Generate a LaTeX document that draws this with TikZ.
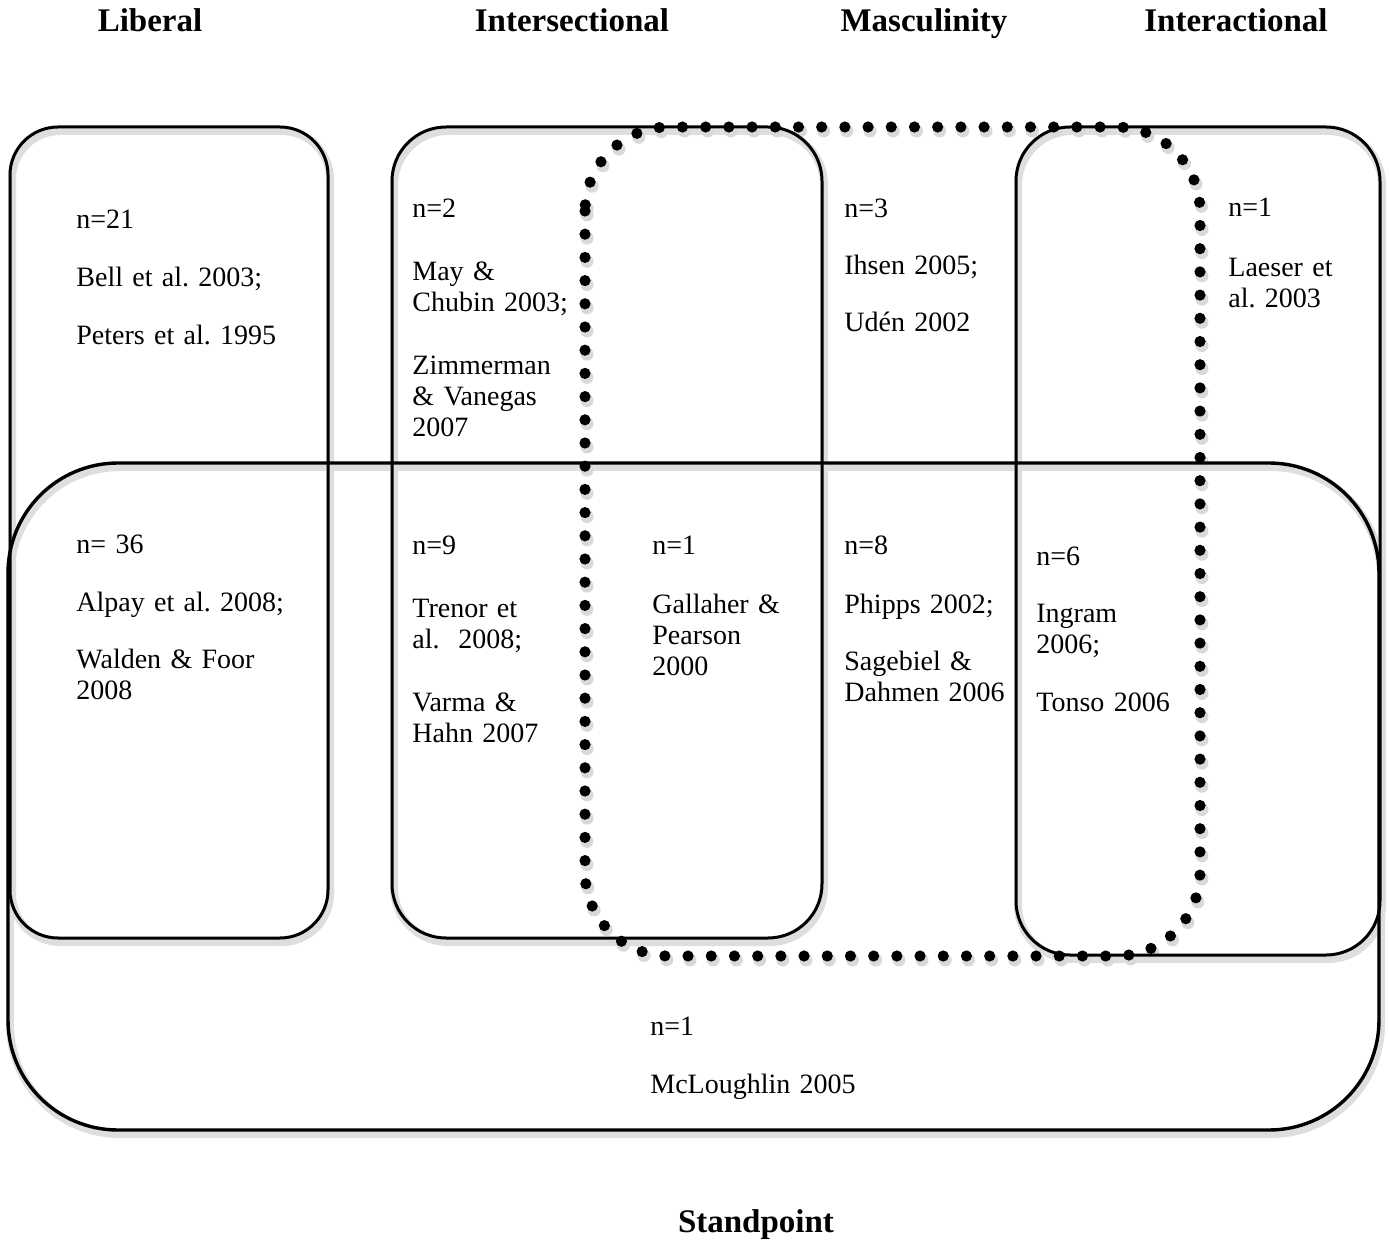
\documentclass[tikz,border=0pt]{standalone}
\usepackage{fontspec}
\setmainfont{Liberation Serif}
\frenchspacing
\usetikzlibrary{positioning}
\tikzset{
    %Define style for the set outlines
    setbox/.style={
           draw=black,
           line width=1.5pt},
    setshadow/.style={
           draw=black!13,
           line width=4pt},
    dotbox/.style={
           draw=black,
           line width=5.6pt,
           line cap=round,
           dash pattern=on 0pt off 11.6pt},
    dotshadow/.style={
           dotbox,
           draw=black!15,
           line width=6.5pt},
    %Define style for the texts
    entry/.style={
           anchor=base west,
           inner sep=0pt,
           text width=120pt,
           align=left,
           font=\fontsize{14}{15.5}\selectfont},
    heading/.style={
           anchor=base,
           inner sep=0pt,
           font=\fontsize{16.5}{19}\selectfont\bfseries}
}

\begin{document}
\begin{tikzpicture}[x=0.5pt,y=-0.5pt]
\useasboundingbox (0,0) rectangle (1389,1241);
% corners of the sets
\coordinate (LIB-nw) at (10,127);   \coordinate (LIB-se) at (328,938);
\coordinate (INS-nw) at (392,127);  \coordinate (INS-se) at (822,938);
\coordinate (INA-nw) at (1016,127); \coordinate (INA-se) at (1380,955);
\coordinate (STP-nw) at (8,463);    \coordinate (STP-se) at (1379,1130);
\coordinate (MAS-nw) at (585,127);  \coordinate (MAS-se) at (1200,956);
% soft shadows
\begin{scope}[transform canvas={shift={(1pt,-2pt)}}]
\draw[setshadow, rounded corners=24pt] (LIB-nw) rectangle (LIB-se);
\draw[setshadow, rounded corners=27pt] (INS-nw) rectangle (INS-se);
\draw[setshadow, rounded corners=27pt] (INA-nw) rectangle (INA-se);
\draw[setshadow, rounded corners=55pt] (STP-nw) rectangle (STP-se);
\draw[dotshadow, rounded corners=42pt] (MAS-nw) rectangle (MAS-se);
\end{scope}
% sets
\draw[setbox, rounded corners=24pt] (LIB-nw) rectangle (LIB-se);
\draw[setbox, rounded corners=27pt] (INS-nw) rectangle (INS-se);
\draw[setbox, rounded corners=27pt] (INA-nw) rectangle (INA-se);
\draw[setbox, line width=1.7pt, rounded corners=55pt] (STP-nw) rectangle (STP-se);
\draw[dotbox, rounded corners=42pt] (MAS-nw) rectangle (MAS-se);
% headings
\node[heading] (Liberal) at (150,32) {Liberal};
\node[heading] (Intersectional) at (572,32) {Intersectional};
\node[heading] (Masculinity) at (924,32) {Masculinity};
\node[heading] (Interactional) at (1236,32) {Interactional};
\node[heading] (Standpoint) at (756,1232) {Standpoint};
% counts and studies
\node[entry] (LIB-only) at (76,229) {n=21\\[13.5pt]Bell et al. 2003;\\[13.5pt]Peters et al. 1995};
\node[entry] (INS-only) at (412,218) {n=2\\[16pt]May \&\\Chubin 2003;\\[16pt]Zimmerman\\\& Vanegas\\2007};
\node[entry] (MAS-only) at (844,218) {n=3\\[13pt]Ihsen 2005;\\[13pt]Ud\'en 2002};
\node[entry] (INA-only) at (1228,217) {n=1\\[14.5pt]Laeser et\\al. 2003};
\node[entry] (LIB-STP) at (76,553) {n= 36\\[13.5pt]Alpay et al. 2008;\\[13.5pt]Walden \& Foor\\2008};
\node[entry] (INS-STP) at (412,555) {n=9\\[16pt]Trenor et\\al.~ 2008;\\[16pt]Varma \&\\Hahn 2007};
\node[entry] (INS-MAS-STP) at (652,555) {n=1\\[14pt]Gallaher \&\\Pearson\\2000};
\node[entry] (MAS-STP) at (844,555) {n=8\\[14pt]Phipps 2002;\\[13pt]Sagebiel \&\\Dahmen 2006};
\node[entry] (INA-MAS-STP) at (1036,566) {n=6\\[13pt]Ingram\\2006;\\[13.5pt]Tonso 2006};
\node[entry] (STP-only) at (650,1035) {n=1\\[13.5pt]McLoughlin 2005};
\end{tikzpicture}
\end{document}
